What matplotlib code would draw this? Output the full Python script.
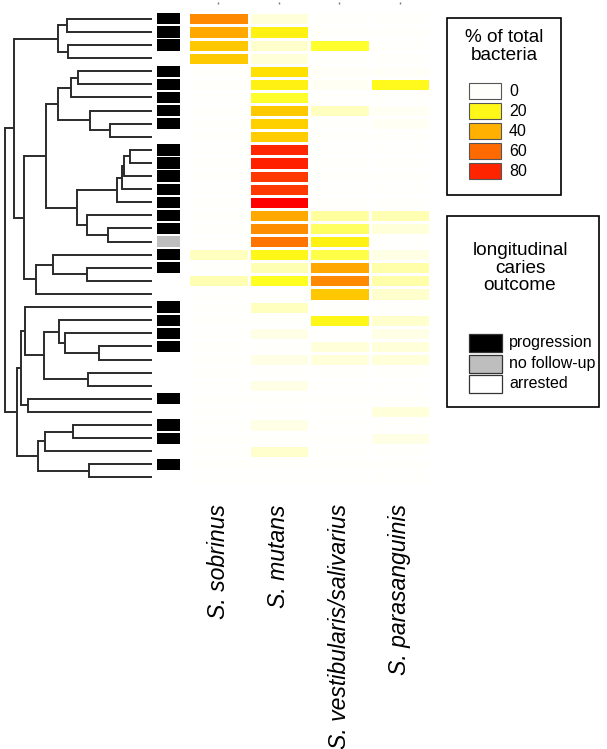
import numpy as np
import matplotlib
matplotlib.use("Agg")
import matplotlib.pyplot as plt
from matplotlib.colors import LinearSegmentedColormap, Normalize
from matplotlib.patches import Rectangle

plt.rcParams['font.family'] = ['Liberation Sans', 'DejaVu Sans']

# ---- data ----
species = ["S. sobrinus", "S. mutans", "S. vestibularis/salivarius", "S. parasanguinis"]

sobrinus = [51, 42, 33, 32, 0, 0, 0, 0, 0, 0, 0, 0, 0, 0, 0, 0, 0, 0,
            5, 0, 6, 0, 0, 0, 0, 0, 0, 0, 0, 0, 0, 0, 0, 0, 0, 0]
mutans = [3, 21, 4, 3, 25, 21, 17, 32, 30, 31, 79, 81, 74, 74, 90, 42, 50, 57,
          20, 6, 18, 0, 5, 0, 2, 0, 2, 0, 2, 0, 0, 2, 0, 4, 0, 0]
vestibularis = [0, 0, 17, 0, 0.5, 1, 0, 5, 0, 0, 0, 0, 0, 0, 0, 8, 13, 21,
                15, 42, 51, 33, 0, 20, 0, 3, 3, 0, 0, 0, 0, 0, 0, 0, 0, 0]
parasanguinis = [0, 0, 0, 0, 0.5, 19, 0, 1, 1, 0, 0, 0, 0, 0, 0, 6, 3, 0,
                 2, 7, 7, 4, 0, 4, 2, 3, 3, 0, 0, 0, 3, 0, 2, 0, 0, 0]

# P = progression, N = no follow-up, A = arrested
outcome = list("PPPAPPPPPAPPPPPPPNPPAAPPPPAAAPAPPAPA")

# dendrogram merges (child a, child b, height); ids >= 36 are earlier merges
merges = [
    (0, 1, 85.3), (2, 3, 83.7), (36, 37, 93.7), (4, 5, 74.3), (39, 6, 81.0),
    (8, 9, 42.0), (7, 41, 62.0), (40, 42, 93.7), (10, 11, 22.0), (44, 12, 28.0),
    (45, 13, 30.0), (46, 14, 35.3), (16, 17, 43.7), (15, 48, 64.7), (47, 49, 74.7),
    (43, 50, 106.0), (19, 20, 64.7), (18, 52, 98.7), (53, 21, 116.3), (51, 54, 128.0),
    (38, 55, 138.0), (25, 26, 52.7), (24, 57, 87.0), (23, 58, 92.7), (27, 28, 64.3),
    (59, 60, 107.7), (22, 61, 127.0), (29, 30, 124.3), (62, 63, 131.3), (31, 32, 78.7),
    (65, 33, 107.0), (34, 35, 62.7), (66, 67, 113.7), (64, 68, 135.3), (56, 69, 147.0),
]

legend_values = [0, 20, 40, 60, 80]
outcome_labels = ["progression", "no follow-up", "arrested"]
outcome_colors = {"P": "black", "N": "#bebebe", "A": "white"}

# ---- layout ----
W, H = 607, 749
fig = plt.figure(figsize=(W / 100, H / 100), dpi=100)


def box(x0, y0, x1, y1):
    return [x0 / W, 1 - y1 / H, (x1 - x0) / W, (y1 - y0) / H]


n = len(outcome)
top, bot = 12.3, 484.0

heat_cmap = LinearSegmentedColormap.from_list("heat", [
    (0.0, "#fffffc"), (18 / 90, "#ffff20"), (25 / 90, "#ffe000"),
    (40 / 90, "#ffb000"), (60 / 90, "#ff6a00"), (80 / 90, "#ff2400"), (1.0, "#ff0000")])
norm = Normalize(0, 90)

# dendrogram
axd = fig.add_axes(box(5, top, 152, bot))
pos = {i: float(i) for i in range(n)}
hgt = {i: 0.0 for i in range(n)}
for k, (a, b, h) in enumerate(merges):
    for c in (a, b):
        axd.plot([hgt[c], h], [pos[c], pos[c]], color="#2b2b2b", lw=1.4,
                 solid_capstyle="butt", clip_on=False)
    axd.plot([h, h], [pos[a], pos[b]], color="#2b2b2b", lw=1.4,
             solid_capstyle="projecting", clip_on=False)
    pos[n + k] = (pos[a] + pos[b]) / 2
    hgt[n + k] = h
axd.set_xlim(147, 0)
axd.set_ylim(n - 0.5, -0.5)
axd.axis("off")

# outcome column
axo = fig.add_axes(box(157, top, 180, bot))
axo.barh(np.arange(n), [1] * n, height=0.86, left=0,
         color=[outcome_colors[o] for o in outcome])
axo.set_xlim(0, 1)
axo.set_ylim(n - 0.5, -0.5)
axo.axis("off")

# heatmap
axh = fig.add_axes(box(188, top, 430, bot))
data = np.array([sobrinus, mutans, vestibularis, parasanguinis]).T
axh.pcolormesh(np.arange(5) - 0.5, np.arange(n + 1) - 0.5, data, cmap=heat_cmap,
               norm=norm, edgecolors="white", linewidth=0.9)
axh.set_ylim(n - 0.5, -0.5)
axh.set_xlim(-0.5, 3.5)
for s in axh.spines.values():
    s.set_visible(False)
axh.spines["top"].set_position(("outward", 6))
axh.set_yticks([])
axh.set_xticks(range(4))
axh.set_xticklabels(species, rotation=90, fontsize=16.6, fontstyle="italic",
                    va="top", ha="center")
axh.tick_params(axis="x", bottom=False, top=True, labelbottom=True, labeltop=False,
                length=1.5, width=1, color="#777777", pad=13)

# legends
axl = fig.add_axes([0, 0, 1, 1])
axl.set_xlim(0, W)
axl.set_ylim(H, 0)
axl.axis("off")

axl.add_patch(Rectangle((447, 18), 114, 177, fill=False, ec="black", lw=1.2))
axl.text(504, 29, "% of total\nbacteria", ha="center", va="top", fontsize=13.7,
         linespacing=1.05)
for i, v in enumerate(legend_values):
    y = 83 + 20 * i
    axl.add_patch(Rectangle((469, y), 32, 16, fc=heat_cmap(norm(v)),
                            ec="#555555", lw=0.8))
    axl.text(509, y + 8.5, str(v), ha="left", va="center", fontsize=11.5)

axl.add_patch(Rectangle((447, 216), 152, 191, fill=False, ec="black", lw=1.2))
axl.text(520, 242, "longitudinal\ncaries\noutcome", ha="center", va="top",
         fontsize=13.7, linespacing=1.05)
for i, (lab, key) in enumerate(zip(outcome_labels, ["P", "N", "A"])):
    y = 334 + 20.5 * i
    axl.add_patch(Rectangle((469, y), 33, 18, fc=outcome_colors[key],
                            ec="#333333", lw=0.9))
    axl.text(509, y + 9, lab, ha="left", va="center", fontsize=11.5)

fig.savefig("out.png", dpi=100, facecolor="white")
